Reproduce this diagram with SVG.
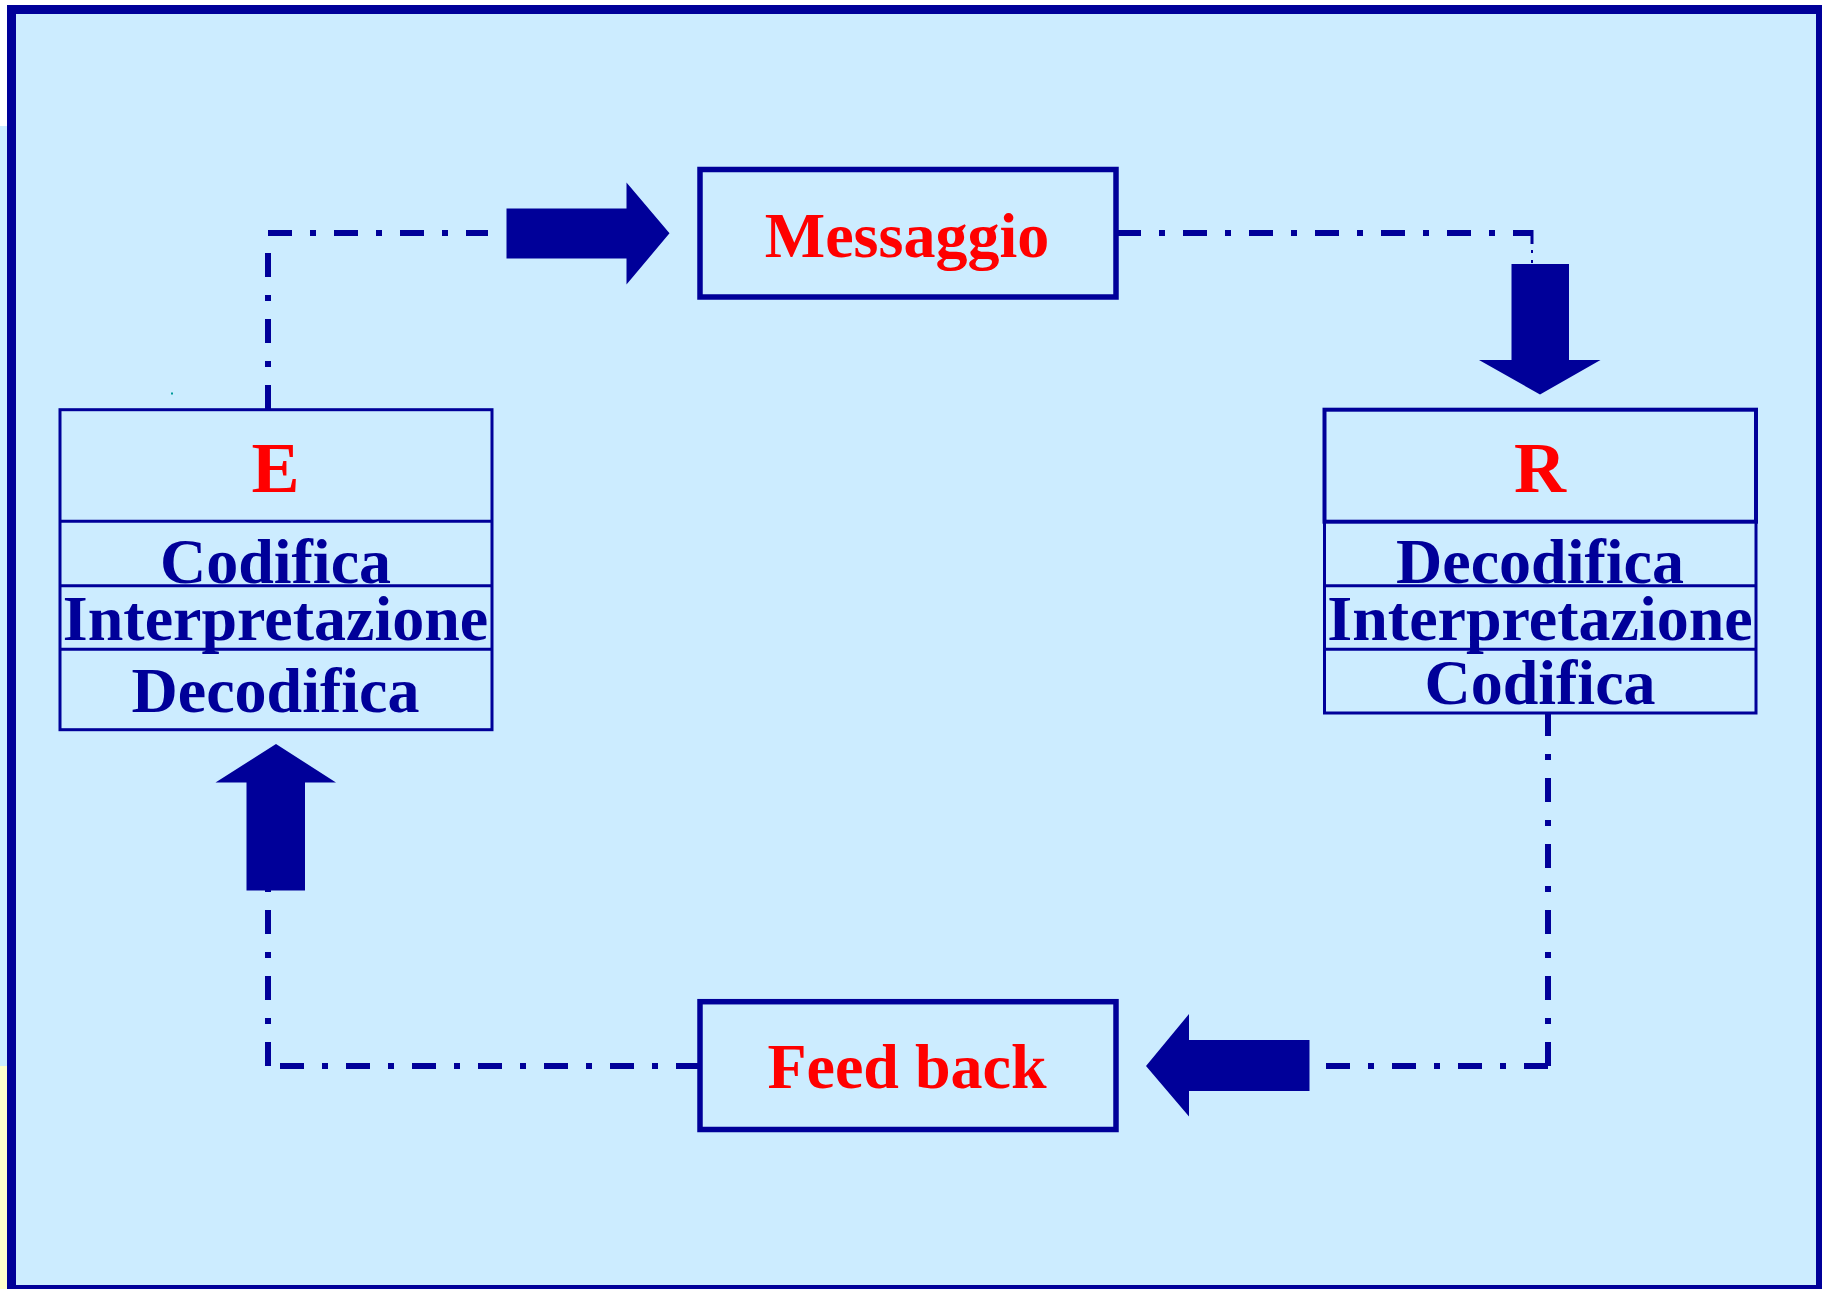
<svg xmlns="http://www.w3.org/2000/svg" width="1822" height="1289" viewBox="0 0 1822 1289">
  <defs>
    <style>
      .box { fill: none; stroke: #000099; }
      .lbl { font-family: "Liberation Serif", "Times New Roman", serif; font-weight: bold; text-anchor: middle; }
      .red { fill: #FF0000; }
      .blue { fill: #000099; }
      .conn { stroke: #000099; stroke-width: 6; fill: none; stroke-dasharray: 24 18 6 18; }
      .arrow { fill: #000099; }
    </style>
  </defs>
  <!-- background -->
  <rect x="0" y="0" width="1822" height="1289" fill="#FFFFFF"/>
  <rect x="7" y="5" width="1815" height="1284" fill="#CCECFF"/>
  <rect x="0" y="126" width="7" height="940" fill="#CCECFF"/>
  <rect x="0" y="1066" width="7" height="223" fill="#FFFFCC"/>
  <rect x="11.5" y="9.5" width="1809" height="1280" fill="none" stroke="#000099" stroke-width="9"/>
  <rect x="171" y="392.5" width="2" height="2" fill="#009999"/>

  <g id="connectors">
    <line class="conn" x1="268" y1="233" x2="488" y2="233"/>
    <line class="conn" x1="268" y1="409" x2="268" y2="253"/>
    <line class="conn" x1="1117" y1="233" x2="1532" y2="233"/>
    <line x1="1532" y1="230" x2="1532" y2="244" stroke="#000099" stroke-width="3"/>
    <line x1="1532" y1="250" x2="1532" y2="264" stroke="#000099" stroke-width="2" stroke-dasharray="3 7"/>
    <line class="conn" x1="1548" y1="1066" x2="1548" y2="713"/>
    <line class="conn" x1="1548" y1="1066" x2="1326" y2="1066"/>
    <line class="conn" x1="268" y1="1066" x2="268" y2="886"/>
    <line class="conn" x1="280" y1="1066" x2="698" y2="1066"/>
    <polygon class="arrow" points="506.5,208.5 626.5,208.5 626.5,182.5 669.5,233.3 626.5,284.5 626.5,258.5 506.5,258.5"/>
    <polygon class="arrow" points="1511.5,264 1569,264 1569,360 1600.5,360 1540,394.5 1479,360 1511.5,360"/>
    <polygon class="arrow" points="246.5,890.5 305,890.5 305,782.5 336,782.5 276,744 215.5,782.5 246.5,782.5"/>
    <polygon class="arrow" points="1309.5,1040 1189,1040 1189,1014 1146,1066 1189,1116.5 1189,1091 1309.5,1091"/>
  </g>

  <g id="node-messaggio">
    <rect class="box" x="700" y="169.5" width="416" height="127.5" stroke-width="5.5"/>
    <text class="lbl red" x="907" y="256.5" font-size="64">Messaggio</text>
  </g>

  <g id="node-feedback">
    <rect class="box" x="700" y="1001.7" width="416" height="127.8" stroke-width="5.5"/>
    <text class="lbl red" x="907" y="1088.3" font-size="64">Feed back</text>
  </g>

  <g id="node-E">
    <rect class="box" x="60" y="409.7" width="432" height="320" stroke-width="3"/>
    <line class="box" x1="60" y1="521.3" x2="492" y2="521.3" stroke-width="3"/>
    <line class="box" x1="60" y1="585.8" x2="492" y2="585.8" stroke-width="3"/>
    <line class="box" x1="60" y1="649.3" x2="492" y2="649.3" stroke-width="3"/>
    <text class="lbl red" x="275.5" y="491.7" font-size="72">E</text>
    <text class="lbl blue" x="275.5" y="583" font-size="64">Codifica</text>
    <text class="lbl blue" x="275.5" y="640" font-size="64">Interpretazione</text>
    <text class="lbl blue" x="275.5" y="711.7" font-size="64">Decodifica</text>
  </g>

  <g id="node-R">
    <rect class="box" x="1324.5" y="521.5" width="431.5" height="191.5" stroke-width="3"/>
    <line class="box" x1="1324.5" y1="585.8" x2="1756" y2="585.8" stroke-width="3"/>
    <line class="box" x1="1324.5" y1="649.2" x2="1756" y2="649.2" stroke-width="3"/>
    <rect class="box" x="1324.5" y="409.7" width="431.5" height="112" stroke-width="4"/>
    <text class="lbl red" x="1540" y="491.7" font-size="72">R</text>
    <text class="lbl blue" x="1540" y="583" font-size="64">Decodifica</text>
    <text class="lbl blue" x="1540" y="640" font-size="64">Interpretazione</text>
    <text class="lbl blue" x="1540" y="704" font-size="64">Codifica</text>
  </g>
</svg>
